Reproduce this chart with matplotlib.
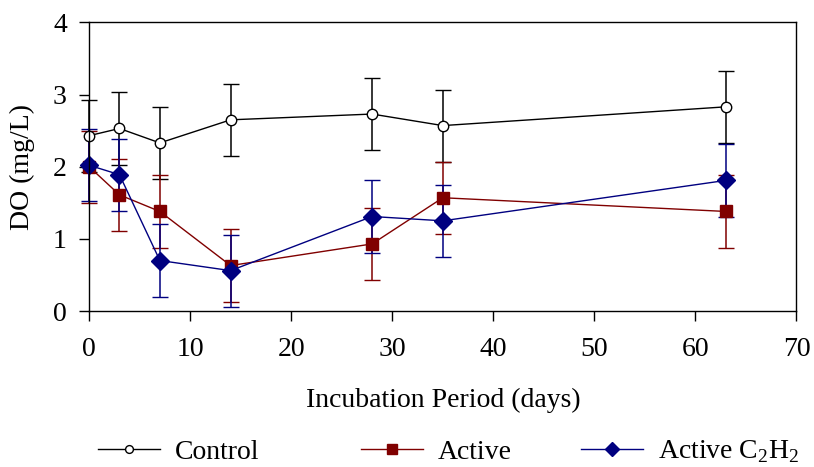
import matplotlib
matplotlib.use("Agg")
import matplotlib.pyplot as plt

days = [0, 3, 7, 14, 28, 35, 63]
control = [2.43, 2.53, 2.33, 2.65, 2.73, 2.57, 2.83]
active = [2.00, 1.61, 1.38, 0.63, 0.93, 1.57, 1.38]
active_c2h2 = [2.02, 1.89, 0.70, 0.56, 1.31, 1.25, 1.81]
err_control = [0.5, 0.5, 0.5, 0.5, 0.5, 0.5, 0.5]
err_active = [0.5, 0.5, 0.5, 0.5, 0.5, 0.5, 0.5]
err_c2h2 = [0.5, 0.5, 0.5, 0.5, 0.5, 0.5, 0.5]

plt.rcParams["font.family"] = ["Liberation Serif", "DejaVu Serif"]
plt.rcParams["mathtext.fontset"] = "custom"
plt.rcParams["mathtext.rm"] = "Liberation Serif"

fig = plt.figure(figsize=(8.14, 4.67), dpi=100)
ax = fig.add_axes([0.1095, 0.334, 0.869, 0.618])

series = [
    (control, err_control, "black", "o", "white", 7.5, "Control"),
    (active, err_active, "#800000", "s", "#800000", 9.0, "Active"),
    (active_c2h2, err_c2h2, "#000080", "D", "#000080", 9.0, r"Active C$_2$H$_2$"),
]
for vals, err, col, mk, fc, ms, lab in series:
    ax.errorbar(days, vals, yerr=err, color=col, ecolor=col, elinewidth=1.1,
                capsize=6, capthick=1.6, lw=1.0, marker=mk, markersize=ms,
                markerfacecolor=fc, markeredgecolor=col, markeredgewidth=1.0,
                label=lab, clip_on=False)

ax.set_xlim(0, 70)
ax.set_ylim(0, 4)
ax.set_xticks(range(0, 71, 10))
ax.set_yticks(range(0, 5))
ax.tick_params(direction="out", length=7, width=1.0, labelsize=20)
ax.tick_params(axis="x", pad=11.5)
ax.tick_params(axis="y", pad=9)
for s in ax.spines.values():
    s.set_linewidth(1.0)

ax.set_xlabel("Incubation Period (days)", fontsize=20, labelpad=19)
ax.set_ylabel("DO (mg/L)", fontsize=20, labelpad=13)

# one legend per entry so the spacing follows the original
leg_x = [98, 361, 581]
for (vals, err, col, mk, fc, ms, lab), x in zip(series, leg_x):
    h = plt.Line2D([], [], color=col, marker=mk, markerfacecolor=fc, markeredgecolor=col,
                   markersize=ms * 0.75, lw=1.0)
    fig.legend([h], [lab], loc="center left", bbox_to_anchor=(x / 814, 1 - 452 / 467),
               frameon=False, fontsize=20, borderpad=0, borderaxespad=0,
               handlelength=2.23, handletextpad=0.55)

fig.savefig("out.png", dpi=100)
